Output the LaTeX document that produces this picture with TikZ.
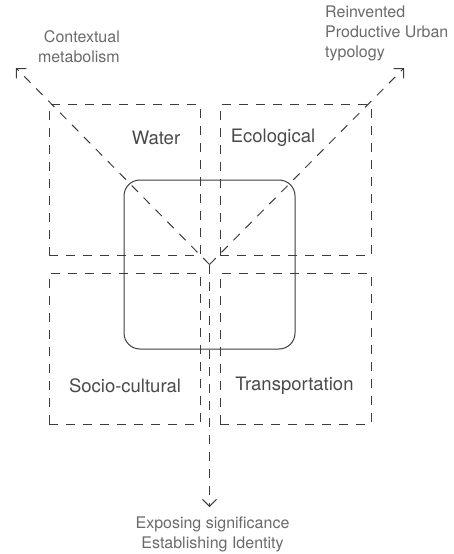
\documentclass[tikz,border=0pt]{standalone}
\usepackage{fontspec}
\setmainfont{TeX Gyre Heros}
\usetikzlibrary{arrows.meta}
\definecolor{linegrey}{HTML}{3C3C3C}
\definecolor{textgrey}{HTML}{4A4A4A}
\definecolor{notegrey}{HTML}{6A6A6A}
\tikzset{
  cell/.style={draw=linegrey, line width=1pt, dash pattern=on 9pt off 8pt,
    minimum width=151pt, minimum height=151pt, inner sep=0pt},
  flow/.style={draw=linegrey, line width=1pt, dash pattern=on 9pt off 8pt,
    -{Straight Barb[length=7pt,width=14pt]}},
  tag/.style={text=textgrey, font=\fontsize{18.5}{22}\selectfont},
  note/.style={text=notegrey, font=\fontsize{16}{20}\selectfont, inner sep=0pt},
}
\begin{document}
\begin{tikzpicture}[x=1pt,y=-1pt]
  \useasboundingbox (0,0) rectangle (453,554);
  % four domains
  \node[cell] (water) at (124.5,180) {};
  \node[cell] (ecol) at (295.5,180) {};
  \node[cell] (socio) at (124.5,348.5) {};
  \node[cell] (trans) at (295.5,348.5) {};
  \node[draw=linegrey, line width=1pt, rounded corners=16pt,
    minimum width=171pt, minimum height=169pt] (core) at (209.5,264.5) {};
  \node[tag] (waterlbl) at (156,138) {Water};
  \node[tag] (ecollbl) at (273,138) {Ecological};
  \node[tag] (sociolbl) at (125,386) {Socio-cultural};
  \node[tag] (translbl) at (294.5,386) {Transportation};
  % outcomes
  \node[note, align=right, anchor=east] (ctx) at (120,47) {Contextual\\metabolism};
  \node[note, align=left, anchor=west] (puu) at (325,33) {Reinvented\\Productive Urban\\typology};
  \node[note, align=center] (ident) at (212.5,534) {Exposing significance\\Establishing Identity};
  \coordinate (ctxend) at (16,68);
  \coordinate (puuend) at (404,68);
  \coordinate (identend) at (209.5,507);
  \draw[flow] (core.center) -- (ctxend);
  \draw[flow] (core.center) -- (puuend);
  \draw[flow] (core.center) -- (identend);
\end{tikzpicture}
\end{document}
